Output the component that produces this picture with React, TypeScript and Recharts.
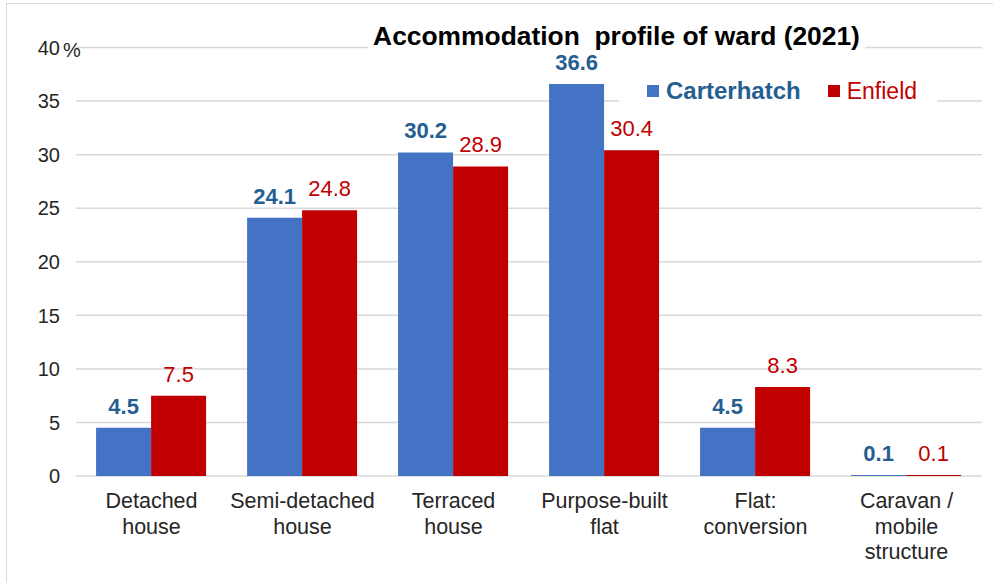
import { BarChart, Bar, XAxis, YAxis, CartesianGrid, Legend, LabelList } from "recharts";

// Accommodation profile of ward (2021): Carterhatch vs Enfield, % of households.

const categories = [
  "Detached\nhouse",
  "Semi-detached\nhouse",
  "Terraced\nhouse",
  "Purpose-built\nflat",
  "Flat:\nconversion",
  "Caravan /\nmobile\nstructure",
];
const carterhatch = [4.5, 24.1, 30.2, 36.6, 4.5, 0.1];
const enfield = [7.5, 24.8, 28.9, 30.4, 8.3, 0.1];
const yTicks = [0, 5, 10, 15, 20, 25, 30, 35, 40];

const data = categories.map((name, i) => ({
  name,
  carterhatch: carterhatch[i],
  enfield: enfield[i],
}));

const FONT = '"Liberation Sans", Arial, sans-serif';
const BLUE = "#4472C4";
const BLUE_TEXT = "#255E91";
const RED = "#C00000";
const AXIS_TEXT = "#262626";
const GRID = "#D9D9D9";

function XTick({ x, y, payload }: any) {
  const lines = String(payload.value).split("\n");
  return (
    <text x={x} y={y} textAnchor="middle" fill={AXIS_TEXT} fontSize={21.5} fontFamily={FONT}>
      {lines.map((line, i) => (
        <tspan key={i} x={x} dy={i === 0 ? 24 : 25.5}>
          {line}
        </tspan>
      ))}
    </text>
  );
}

function YTick({ x, y, payload }: any) {
  return (
    <g fill={AXIS_TEXT} fontSize={20} fontFamily={FONT}>
      <text x={x} y={y} dy="0.36em" textAnchor="end">
        {payload.value}
      </text>
      {payload.value === 40 && (
        <text x={x + 3} y={y} dy="0.45em" textAnchor="start">
          %
        </text>
      )}
    </g>
  );
}

function LegendBox({ payload }: any) {
  return (
    <div
      style={{
        background: "#fff",
        display: "flex",
        alignItems: "center",
        height: 30,
        paddingLeft: 28,
        fontFamily: FONT,
      }}
    >
      {(payload || []).map((entry: any, i: number) => (
        <div key={i} style={{ display: "flex", alignItems: "center", marginLeft: i === 0 ? 0 : 27 }}>
          <span style={{ width: 12, height: 12, background: entry.color, marginRight: 7 }} />
          <span
            style={{
              color: i === 0 ? BLUE_TEXT : RED,
              fontWeight: i === 0 ? 700 : 400,
              fontSize: i === 0 ? 24 : 23,
              lineHeight: "30px",
            }}
          >
            {entry.value}
          </span>
        </div>
      ))}
    </div>
  );
}

export default function App() {
  return (
    <div
      style={{
        position: "absolute",
        left: 0,
        top: 0,
        width: 993,
        height: 583,
        overflow: "hidden",
        background: "#fff",
      }}
    >
      <div
        style={{
          position: "absolute",
          left: 6,
          top: 3,
          width: 1100,
          height: 700,
          border: `1.5px solid ${GRID}`,
        }}
      />
      <BarChart
        width={993}
        height={583}
        data={data}
        margin={{ top: 47.5, right: 11, left: 0, bottom: 7 }}
        barGap={0}
        barCategoryGap="13.3%"
      >
        <CartesianGrid vertical={false} stroke={GRID} strokeWidth={1.5} />
        <XAxis
          dataKey="name"
          axisLine={false}
          tickLine={false}
          interval={0}
          height={100}
          tick={<XTick />}
        />
        <YAxis
          domain={[0, 40]}
          ticks={yTicks}
          axisLine={false}
          tickLine={false}
          tickMargin={10}
          width={76}
          tick={<YTick />}
        />
        <Legend
          verticalAlign="middle"
          align="center"
          content={<LegendBox />}
          wrapperStyle={{ left: 619, top: 76, width: 318, height: 30 }}
        />
        <Bar dataKey="carterhatch" name="Carterhatch" fill={BLUE} isAnimationActive={false}>
          <LabelList
            dataKey="carterhatch"
            position="top"
            offset={14}
            fill={BLUE_TEXT}
            fontSize={22}
            fontWeight={700}
            fontFamily={FONT}
          />
        </Bar>
        <Bar dataKey="enfield" name="Enfield" fill={RED} isAnimationActive={false}>
          <LabelList
            dataKey="enfield"
            position="top"
            offset={14}
            fill={RED}
            fontSize={22}
            fontFamily={FONT}
          />
        </Bar>
      </BarChart>
      <div
        style={{
          position: "absolute",
          left: 368,
          top: 21,
          width: 497,
          height: 30,
          background: "#fff",
          textAlign: "center",
          fontFamily: FONT,
          fontWeight: 700,
          fontSize: 26.4,
          lineHeight: "30px",
          color: "#000",
          whiteSpace: "pre",
        }}
      >
        {"Accommodation  profile of ward (2021)"}
      </div>
    </div>
  );
}
